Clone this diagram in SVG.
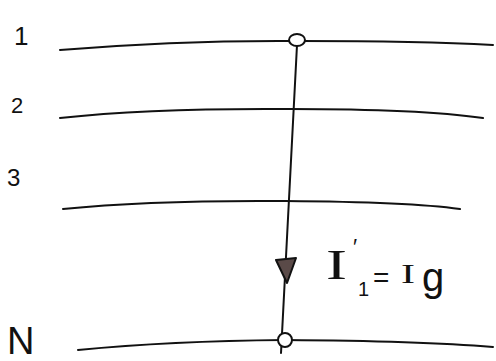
<svg xmlns="http://www.w3.org/2000/svg" width="496" height="361" viewBox="0 0 496 361">
<style>
.ln{fill:none;stroke:#111;stroke-width:2;stroke-linecap:round}
.lb{font-family:"Liberation Sans",Arial,sans-serif;fill:#111}
.sf{font-family:"Liberation Serif","Times New Roman",serif;fill:#111}
.dot{fill:#fff;stroke:#111;stroke-width:2}
</style>
<rect width="496" height="361" fill="#fff"/>
<g id="bus1">
<path class="ln" d="M60,50 Q180,40 300,41 Q420,41 493,45"/>
<text class="lb" x="14" y="45" font-size="26">1</text>
</g>
<g id="bus2">
<path class="ln" d="M60,118 Q150,108 290,109 Q420,109 483,118"/>
<text class="lb" x="11" y="113" font-size="22">2</text>
</g>
<g id="bus3">
<path class="ln" d="M63,209 Q150,200 285,201 Q410,202 460,209"/>
<text class="lb" x="7" y="186" font-size="24">3</text>
</g>
<g id="busN">
<path class="ln" d="M78,350 Q170,341 285,340 Q420,341 493,347"/>
<text class="lb" x="7" y="354" font-size="38">N</text>
</g>
<g id="connectors">
<path class="ln" d="M297,45 Q289,200 281,353"/>
<polygon points="276,260 296,258 287,283" fill="#5a4a48" stroke="#111" stroke-width="2" stroke-linejoin="round"/>
<ellipse class="dot" cx="297" cy="40" rx="8" ry="6"/>
<circle class="dot" cx="285" cy="340" r="7" fill="#ddd"/>
</g>
<g id="label">
<text class="sf" font-size="42" transform="translate(326,279) scale(1.5,1)">I</text>
<text class="lb" x="353" y="254" font-size="22">′</text>
<text class="lb" x="358" y="296" font-size="20">1</text>
<text class="lb" x="373" y="287" font-size="28">=</text>
<text class="sf" font-size="28" transform="translate(401,283) scale(1.5,1)">I</text>
<text class="lb" x="422" y="291" font-size="40">g</text>
</g>
</svg>
